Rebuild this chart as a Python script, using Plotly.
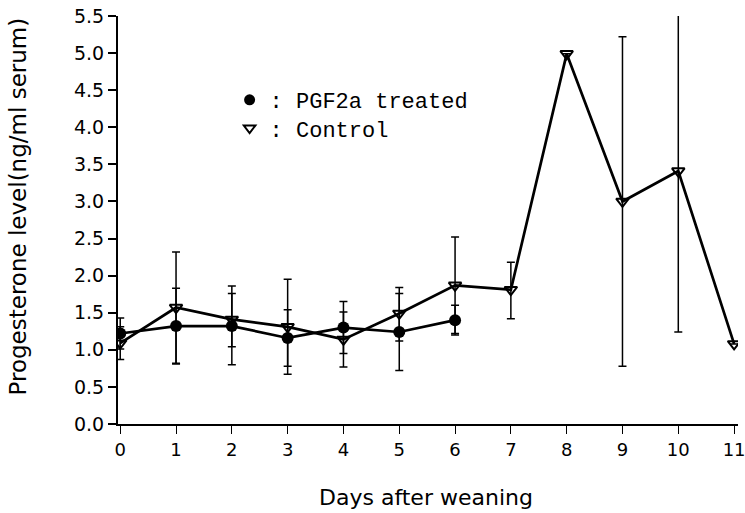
import plotly.graph_objects as go

days_control = [0, 1, 2, 3, 4, 5, 6, 7, 8, 9, 10, 11]
control_mean = [1.09, 1.57, 1.41, 1.31, 1.14, 1.49, 1.87, 1.81, 4.99, 3.00, 3.41, 1.08]
control_err_plus = [0.22, 0.75, 0.45, 0.64, 0.37, 0.35, 0.65, 0.37, 0.0, 2.22, 2.17, 0.0]
control_err_minus = [0.22, 0.75, 0.37, 0.64, 0.37, 0.37, 0.65, 0.39, 0.0, 2.22, 2.17, 0.0]

days_pgf = [0, 1, 2, 3, 4, 5, 6]
pgf_mean = [1.22, 1.32, 1.32, 1.16, 1.30, 1.24, 1.40]
pgf_err_plus = [0.21, 0.51, 0.44, 0.38, 0.35, 0.52, 0.20]
pgf_err_minus = [0.21, 0.51, 0.52, 0.38, 0.35, 0.52, 0.20]

x_ticks = list(range(0, 12))
y_ticks = [0.0, 0.5, 1.0, 1.5, 2.0, 2.5, 3.0, 3.5, 4.0, 4.5, 5.0, 5.5]

x_title = "Days after weaning"
y_title = "Progesterone level(ng/ml serum)"

fig = go.Figure()

fig.add_trace(go.Scatter(
    x=days_control, y=control_mean, mode="lines+markers", showlegend=False,
    line=dict(color="black", width=2.7),
    marker=dict(symbol="triangle-down-open", size=11, color="black", line=dict(width=2)),
    error_y=dict(type="data", symmetric=False, array=control_err_plus,
                 arrayminus=control_err_minus, color="black", thickness=1.5, width=4),
))
fig.add_trace(go.Scatter(
    x=days_pgf, y=pgf_mean, mode="lines+markers", showlegend=False,
    line=dict(color="black", width=2.7),
    marker=dict(symbol="circle", size=12, color="black"),
    error_y=dict(type="data", symmetric=False, array=pgf_err_plus,
                 arrayminus=pgf_err_minus, color="black", thickness=1.5, width=4),
))

# legend entries
fig.add_trace(go.Scatter(
    x=[None], y=[None], mode="markers", name=": PGF2a treated", legend="legend",
    marker=dict(symbol="circle", size=11, color="black"),
))
fig.add_trace(go.Scatter(
    x=[None], y=[None], mode="markers", name=": Control", legend="legend2",
    marker=dict(symbol="triangle-down-open", size=10, color="black", line=dict(width=2)),
))

legend_font = dict(family="Liberation Mono", size=22, color="black")

fig.update_layout(
    width=745, height=513,
    margin=dict(l=118, r=7, t=16, b=89),
    paper_bgcolor="white", plot_bgcolor="white",
    font=dict(family="DejaVu Sans", color="black", size=15),
    legend=dict(x=0.180, y=0.794, xanchor="left", yanchor="middle",
                font=legend_font, bgcolor="rgba(0,0,0,0)"),
    legend2=dict(x=0.180, y=0.725, xanchor="left", yanchor="middle",
                 font=legend_font, bgcolor="rgba(0,0,0,0)"),
    xaxis=dict(
        range=[-0.04, 11.07], tickmode="array", tickvals=x_ticks,
        ticktext=[str(v) for v in x_ticks], automargin=False, ticklabeloverflow="allow",
        showgrid=False, zeroline=False, showline=True, linecolor="black", linewidth=2,
        ticks="outside", ticklen=8, tickwidth=1, tickcolor="black",
        tickfont=dict(family="DejaVu Sans", size=18),
    ),
    yaxis=dict(
        range=[0, 5.5], tickmode="array", tickvals=y_ticks,
        ticktext=[f"{v:.1f}" for v in y_ticks], automargin=False, ticklabeloverflow="allow",
        showgrid=False, zeroline=False, showline=True, linecolor="black", linewidth=2,
        ticks="outside", ticklen=8, tickwidth=1.5, tickcolor="black",
        tickfont=dict(family="DejaVu Sans", size=19),
    ),
    annotations=[
        dict(text=x_title, xref="paper", yref="paper", x=0.497, y=-0.179,
             xanchor="center", yanchor="middle", showarrow=False,
             font=dict(family="DejaVu Sans", size=22, color="black")),
        dict(text=y_title, xref="paper", yref="paper", x=-0.162, y=0.532,
             xanchor="center", yanchor="middle", showarrow=False, textangle=-90,
             font=dict(family="DejaVu Sans", size=23, color="black")),
    ],
)

fig.write_html("out.html", config={"displayModeBar": False},
               post_script="document.body.style.margin='0';")
